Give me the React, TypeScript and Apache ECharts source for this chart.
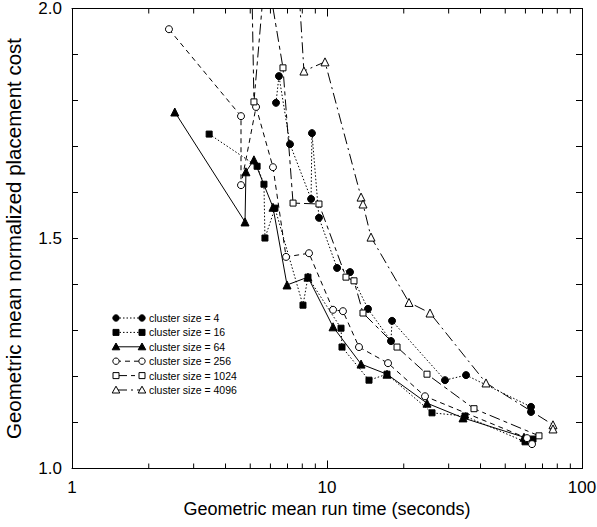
import React, { useEffect, useRef } from "react";
import * as echarts from "echarts";

const FONT = '"Liberation Sans", Arial, Helvetica, sans-serif';

// Geometric mean run time (seconds) and normalized placement cost, per cluster size
const time4 = [6.31, 6.48, 7.16, 8.66, 8.73, 9.3, 10.95, 12.31, 14.48, 17.82, 17.99, 29.02, 35.09, 63.1, 63.1];
const cost4 = [1.795, 1.853, 1.705, 1.586, 1.729, 1.545, 1.436, 1.427, 1.347, 1.277, 1.321, 1.192, 1.203, 1.134, 1.123];

const time16 = [3.45, 5.32, 5.66, 5.71, 6.25, 8.05, 8.42, 11.35, 11.45, 14.61, 17.19, 25.81, 34.77, 59.78, 64.25];
const cost16 = [1.727, 1.657, 1.618, 1.501, 1.566, 1.355, 1.416, 1.305, 1.264, 1.192, 1.205, 1.121, 1.114, 1.058, 1.064];

const time64 = [2.53, 4.77, 4.81, 5.17, 6.14, 6.97, 8.42, 10.56, 13.6, 17.19, 24.67, 34.15, 59.24];
const cost64 = [1.775, 1.536, 1.645, 1.671, 1.568, 1.399, 1.416, 1.308, 1.227, 1.205, 1.142, 1.11, 1.068];

const time256 = [2.4, 4.6, 4.6, 5.27, 6.14, 6.91, 8.5, 10.56, 11.55, 13.35, 17.35, 24.23, 60.86, 63.67];
const cost256 = [1.955, 1.766, 1.616, 1.786, 1.655, 1.46, 1.468, 1.345, 1.342, 1.264, 1.229, 1.157, 1.066, 1.053];

const time1024 = [5.0, 5.17, 5.75, 6.72, 7.36, 9.3, 11.87, 12.76, 13.84, 18.82, 24.67, 37.71, 67.81];
const cost1024 = [2.25, 1.797, 2.096, 1.871, 1.577, 1.575, 1.416, 1.408, 1.338, 1.264, 1.205, 1.13, 1.071];

const time4096 = [7.45, 8.12, 9.82, 13.6, 13.84, 14.88, 20.97, 25.35, 42.03, 76.96, 76.96];
const cost4096 = [2.2, 1.864, 1.884, 1.59, 1.575, 1.503, 1.361, 1.338, 1.186, 1.095, 1.086];

const seriesNames = [
  "cluster size = 4",
  "cluster size = 16",
  "cluster size = 64",
  "cluster size = 256",
  "cluster size = 1024",
  "cluster size = 4096",
];

const xMinorTicks = [2, 3, 4, 5, 6, 7, 8, 9, 20, 30, 40, 50, 60, 70, 80, 90];

const xTitle = "Geometric mean run time (seconds)";
const yTitle = "Geometric mean normalized placement cost";

type Def = {
  name: string;
  time: number[];
  cost: number[];
  symbol: "circle" | "rect" | "triangle";
  size: number;
  filled: boolean;
  dash: number[] | "solid";
};

const defs: Def[] = [
  { name: seriesNames[0], time: time4, cost: cost4, symbol: "circle", size: 7, filled: true, dash: [1.5, 2] },
  { name: seriesNames[1], time: time16, cost: cost16, symbol: "rect", size: 6, filled: true, dash: [1.5, 2] },
  { name: seriesNames[2], time: time64, cost: cost64, symbol: "triangle", size: 8, filled: true, dash: "solid" },
  { name: seriesNames[3], time: time256, cost: cost256, symbol: "circle", size: 7, filled: false, dash: [5, 4] },
  { name: seriesNames[4], time: time1024, cost: cost1024, symbol: "rect", size: 6, filled: false, dash: [11, 4, 4, 4] },
  { name: seriesNames[5], time: time4096, cost: cost4096, symbol: "triangle", size: 8, filled: false, dash: [11, 4, 2, 4] },
];

function legendGraphics() {
  const els: any[] = [];
  const x1 = 116;
  const x2 = 142;
  defs.forEach((d, i) => {
    const y = 318 + i * 14.4;
    els.push({
      type: "line",
      shape: { x1, y1: y, x2, y2: y },
      style: { stroke: "#000", lineWidth: 1, lineDash: d.dash === "solid" ? null : d.dash },
      silent: true,
    });
    [x1, x2].forEach((cx) => {
      const fill = d.filled ? "#000" : "#fff";
      const style = { fill, stroke: "#000", lineWidth: 1 };
      if (d.symbol === "circle") {
        els.push({ type: "circle", shape: { cx, cy: y, r: 3.2 }, style, z: 10 });
      } else if (d.symbol === "rect") {
        els.push({ type: "rect", shape: { x: cx - 3, y: y - 3, width: 6, height: 6 }, style, z: 10 });
      } else {
        els.push({
          type: "polygon",
          shape: { points: [[cx, y - 3.8], [cx + 3.8, y + 3], [cx - 3.8, y + 3]] },
          style,
          z: 10,
        });
      }
    });
    els.push({
      type: "text",
      x: 149,
      y,
      style: {
        text: d.name,
        font: `10.5px ${FONT}`,
        fill: "#000",
        textAlign: "left",
        textVerticalAlign: "middle",
        align: "left",
        verticalAlign: "middle",
      },
    });
  });
  return els;
}

export default function App() {
  const ref = useRef<HTMLDivElement>(null);
  useEffect(() => {
    document.body.style.margin = "0";
    if (!ref.current) return;
    const chart = echarts.init(ref.current, null, { renderer: "svg" });
    const axisLineStyle = { color: "#000", width: 1 };
    const logAxisBase = {
      type: "log" as const,
      logBase: 10,
      min: 1,
      max: 100,
      gridIndex: 0,
      splitLine: { show: false },
      minorTick: { show: false },
    };
    const yBase = {
      type: "value" as const,
      min: 1,
      max: 2,
      interval: 0.1,
      splitLine: { show: false },
      axisLine: { show: true, lineStyle: axisLineStyle },
      axisTick: { show: true, inside: true, length: 6, lineStyle: axisLineStyle },
    };
    const option: any = {
      animation: false,
      backgroundColor: "#fff",
      textStyle: { fontFamily: FONT },
      grid: { left: 72, right: 15, top: 8.5, bottom: 58.5, containLabel: false, outerBoundsMode: "none" },
      xAxis: [
        {
          ...logAxisBase,
          position: "bottom",
          axisLine: { show: true, lineStyle: axisLineStyle },
          axisTick: { show: true, inside: true, length: 8, lineStyle: axisLineStyle },
          axisLabel: {
            show: true,
            margin: 10,
            color: "#000",
            fontSize: 17,
            fontFamily: FONT,
            formatter: (v: number) => String(Math.round(v)),
          },
          name: xTitle,
          nameLocation: "middle",
          nameGap: 31,
          nameTextStyle: { color: "#000", fontSize: 18, fontFamily: FONT },
        },
        {
          ...logAxisBase,
          position: "top",
          axisLine: { show: true, lineStyle: axisLineStyle },
          axisTick: { show: true, inside: true, length: 8, lineStyle: axisLineStyle },
          axisLabel: { show: false },
        },
      ],
      yAxis: [
        {
          ...yBase,
          position: "left",
          axisLabel: {
            show: true,
            margin: 10,
            color: "#000",
            fontSize: 17,
            fontFamily: FONT,
            formatter: (v: number) => (Math.round(v * 10) % 5 === 0 ? v.toFixed(1) : ""),
          },
          name: yTitle,
          nameLocation: "middle",
          nameGap: 48,
          nameTextStyle: { color: "#000", fontSize: 20.5, fontFamily: FONT },
        },
        {
          ...yBase,
          position: "right",
          axisLabel: { show: false },
        },
      ],
      series: [
        ...defs.map((d) => ({
          name: d.name,
          type: "line",
          xAxisIndex: 0,
          yAxisIndex: 0,
          data: d.time.map((t, i) => [t, d.cost[i]]),
          symbol: d.symbol,
          symbolSize: d.size,
          showSymbol: true,
          clip: true,
          lineStyle: { color: "#000", width: 1, type: d.dash },
          itemStyle: { color: d.filled ? "#000" : "#fff", borderColor: "#000", borderWidth: 1 },
          emphasis: { disabled: true },
          z: 3,
        })),
        {
          name: "minor ticks",
          type: "custom",
          xAxisIndex: 0,
          yAxisIndex: 0,
          silent: true,
          clip: false,
          z: 2,
          data: xMinorTicks.map((v) => [v, 1]),
          renderItem: (_params: any, api: any) => {
            const v = api.value(0);
            const b = api.coord([v, 1]);
            const t = api.coord([v, 2]);
            const style = { stroke: "#000", lineWidth: 1 };
            return {
              type: "group",
              children: [
                { type: "line", shape: { x1: b[0], y1: b[1], x2: b[0], y2: b[1] - 5 }, style },
                { type: "line", shape: { x1: t[0], y1: t[1], x2: t[0], y2: t[1] + 5 }, style },
              ],
            };
          },
        },
      ],
      graphic: legendGraphics(),
    };
    chart.setOption(option);
    return () => chart.dispose();
  }, []);
  return <div ref={ref} style={{ width: 597, height: 527 }} />;
}
